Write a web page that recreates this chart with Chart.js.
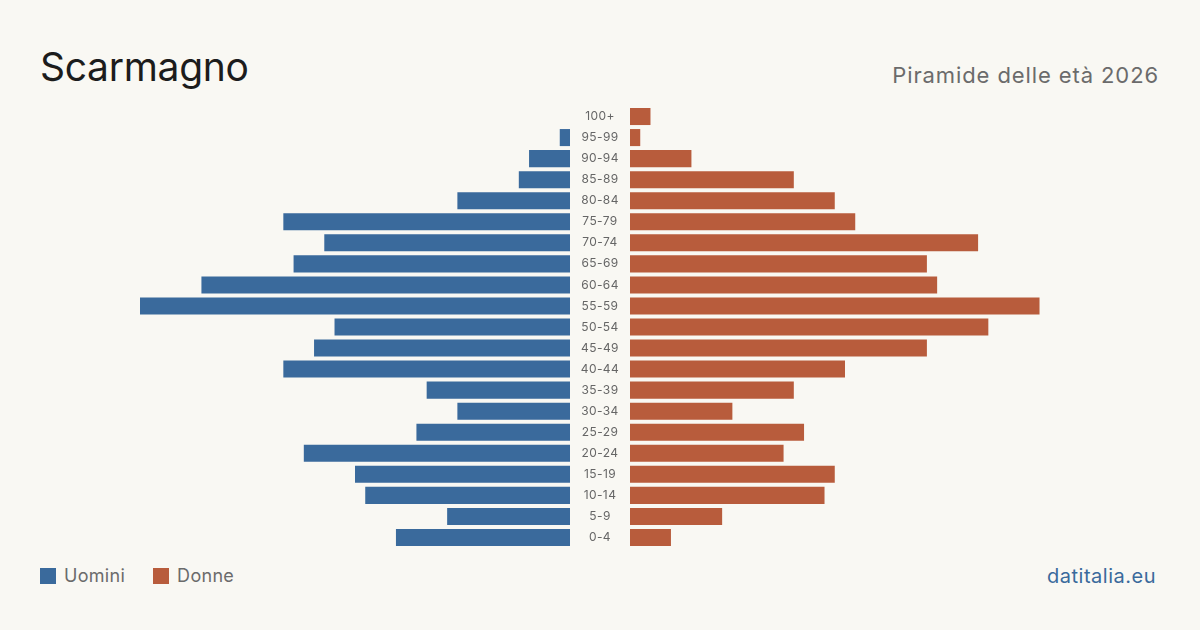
<!DOCTYPE html>
<html>
<head>
<meta charset="utf-8">
<script src="https://cdn.jsdelivr.net/npm/chart.js@4/dist/chart.umd.min.js"></script>
<style>
  html, body { margin: 0; padding: 0; }
  body { width: 1200px; height: 630px; background: #f9f8f3; position: relative; overflow: hidden; font-family: Inter, "Noto Sans", sans-serif; }
  .title { position: absolute; left: 40px; top: 43px; font-size: 39px; color: #1c1c1c; letter-spacing: -0.3px; }
  .subtitle { position: absolute; right: 41px; top: 62px; font-size: 22px; color: #6b6b6b; letter-spacing: 0.9px; }
  .box { position: absolute; }
  .legend { position: absolute; left: 40px; top: 565px; font-size: 18px; color: #6b6b6b; display: flex; align-items: center; }
  .legend span.sw { display: inline-block; width: 16px; height: 16px; margin-right: 8px; }
  .legend .item { display: flex; align-items: center; margin-right: 28px; letter-spacing: 0.3px; }
  .source { position: absolute; right: 44px; top: 564px; font-size: 20px; color: #3a6a9c; letter-spacing: 0.5px; }
</style>
</head>
<body>
<div class="title">Scarmagno</div>
<div class="subtitle">Piramide delle età 2026</div>
<div class="box" style="left:140px; top:106px; width:430px; height:442px;"><canvas id="men"></canvas></div>
<div class="box" style="left:570px; top:106px; width:490px; height:442px;"><canvas id="women"></canvas></div>
<div class="legend">
  <div class="item"><span class="sw" style="background:#3a6a9c"></span>Uomini</div>
  <div class="item"><span class="sw" style="background:#b85c3c"></span>Donne</div>
</div>
<div class="source">datitalia.eu</div>
<script>
// age groups, top to bottom
const ageGroups = ['100+', '95-99', '90-94', '85-89', '80-84', '75-79', '70-74', '65-69', '60-64', '55-59',
  '50-54', '45-49', '40-44', '35-39', '30-34', '25-29', '20-24', '15-19', '10-14', '5-9', '0-4'];
const men = [0, 1, 4, 5, 11, 28, 24, 27, 36, 42, 23, 25, 28, 14, 11, 15, 26, 21, 20, 12, 17];
const women = [2, 1, 6, 16, 20, 22, 34, 29, 30, 40, 35, 29, 21, 16, 10, 17, 15, 20, 19, 9, 4];
const maxValue = 42;

const blue = '#3a6a9c';
const orange = '#b85c3c';

Chart.defaults.font.family = 'Inter, "Noto Sans", sans-serif';
Chart.defaults.animation = false;

// draws the age labels in the gap between the two sides, on the y scale positions
const ageLabels = {
  id: 'ageLabels',
  afterDraw(chart) {
    const ctx = chart.ctx;
    const yScale = chart.scales.y;
    ctx.save();
    ctx.font = '12px Inter, "Noto Sans", sans-serif';
    ctx.letterSpacing = '0.4px';
    ctx.fillStyle = '#666666';
    ctx.textAlign = 'center';
    ctx.textBaseline = 'middle';
    chart.data.labels.forEach((label, i) => {
      ctx.fillText(label, chart.chartArea.left - 30, yScale.getPixelForValue(i));
    });
    ctx.restore();
  }
};

// left side: men, bars grow to the left
new Chart(document.getElementById('men'), {
  type: 'bar',
  data: {
    labels: ageGroups,
    datasets: [{
      label: 'Uomini',
      data: men,
      backgroundColor: blue,
      borderWidth: 0,
      barPercentage: 1,
      categoryPercentage: 0.81
    }]
  },
  options: {
    indexAxis: 'y',
    responsive: true,
    maintainAspectRatio: false,
    layout: { padding: 0 },
    plugins: { legend: { display: false }, tooltip: { enabled: false } },
    scales: {
      x: { display: false, reverse: true, min: 0, max: maxValue },
      y: { display: false }
    }
  }
});

// right side: women
new Chart(document.getElementById('women'), {
  type: 'bar',
  data: {
    labels: ageGroups,
    datasets: [{
      label: 'Donne',
      data: women,
      backgroundColor: orange,
      borderWidth: 0,
      barPercentage: 1,
      categoryPercentage: 0.81
    }]
  },
  options: {
    indexAxis: 'y',
    responsive: true,
    maintainAspectRatio: false,
    layout: { padding: { left: 60 } },
    plugins: { legend: { display: false }, tooltip: { enabled: false } },
    scales: {
      x: { display: false, min: 0, max: maxValue },
      y: { display: false }
    }
  },
  plugins: [ageLabels]
});
</script>
</body>
</html>
